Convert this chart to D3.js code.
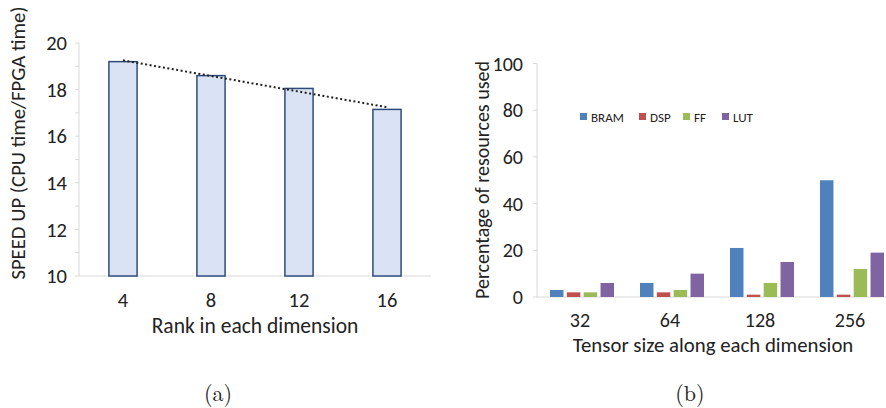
<!DOCTYPE html>
<html><head><meta charset="utf-8">
<script src="https://cdn.jsdelivr.net/npm/d3@7"></script>
<style>
html,body{margin:0;padding:0;background:#fff;}
svg{display:block;}
text{font-family:Carlito,Lato,"Open Sans",sans-serif;fill:#222;}
.cap{font-family:"Latin Modern Roman","CMU Serif","DejaVu Serif","Liberation Serif",serif;}
</style></head>
<body>
<svg id="c" width="886" height="408"></svg>
<script>
// Panel (a)
const ranks = ["4", "8", "12", "16"];
const speedup = [19.2, 18.6, 18.05, 17.15];
const speedTicks = [10, 12, 14, 16, 18, 20];
// Panel (b)
const sizes = ["32", "64", "128", "256"];
const resources = ["BRAM", "DSP", "FF", "LUT"];
const bram = [3, 6, 21, 50];
const dsp = [2, 2, 1, 1];
const ff = [2, 3, 6, 12];
const lut = [6, 10, 15, 19];
const pctTicks = [0, 20, 40, 60, 80, 100];
const resColors = ["#4f81bd", "#c0504d", "#9bbb59", "#8064a2"];

const svg = d3.select("#c");
const axisCol = "#d9d9d9";

// ---------- Panel (a) ----------
{
  const x = d3.scaleBand().domain(ranks).range([79, 431]).paddingInner(0.68).paddingOuter(0.34);
  const y = d3.scaleLinear().domain([10, 20]).range([276, 43]);
  const g = svg.append("g");
  g.append("line").attr("x1", 79).attr("x2", 79).attr("y1", y(20)).attr("y2", y(10)).attr("stroke", axisCol);
  g.append("line").attr("x1", 79).attr("x2", 431).attr("y1", y(10)).attr("y2", y(10)).attr("stroke", axisCol);
  const minor = d3.range(10, 20.01, 1);
  g.selectAll(".mt").data(minor).join("line").attr("x1", 75).attr("x2", 79)
    .attr("y1", d => y(d)).attr("y2", d => y(d)).attr("stroke", axisCol);
  g.selectAll(".yl").data(speedTicks).join("text").attr("x", 67).attr("y", d => y(d))
    .attr("dy", "0.35em").attr("text-anchor", "end").attr("font-size", 20.5).text(d => d);
  g.selectAll(".xl").data(ranks).join("text").attr("x", d => x(d) + x.bandwidth() / 2).attr("y", 300)
    .attr("dy", "0.35em").attr("text-anchor", "middle").attr("font-size", 20.5).text(d => d);
  g.selectAll(".bar").data(speedup).join("rect")
    .attr("x", (d, i) => x(ranks[i])).attr("width", x.bandwidth())
    .attr("y", d => y(d)).attr("height", d => y(10) - y(d))
    .attr("fill", "#dae3f3").attr("stroke", "#2f4b7c").attr("stroke-width", 1.5);
  // linear trendline
  const n = speedup.length, mx = (n - 1) / 2, my = d3.mean(speedup);
  const slope = d3.sum(speedup, (v, i) => (i - mx) * (v - my)) / d3.sum(speedup, (v, i) => (i - mx) ** 2);
  const icpt = my - slope * mx;
  const cx = i => x(ranks[i]) + x.bandwidth() / 2;
  g.append("line").attr("x1", cx(0)).attr("y1", y(icpt)).attr("x2", cx(n - 1)).attr("y2", y(icpt + slope * (n - 1)))
    .attr("stroke", "#222").attr("stroke-width", 2).attr("stroke-dasharray", "2,2.5");
  g.append("text").attr("transform", "translate(18,143) rotate(-90)").attr("text-anchor", "middle")
    .attr("dy", "0.35em").attr("font-size", 20.7).text("SPEED UP (CPU time/FPGA time)");
  g.append("text").attr("x", 255).attr("y", 325).attr("dy", "0.35em").attr("text-anchor", "middle")
    .attr("font-size", 21.5).text("Rank in each dimension");
  g.append("text").attr("class", "cap").attr("x", 218).attr("y", 393).attr("dy", "0.35em")
    .attr("text-anchor", "middle").attr("font-size", 22).text("(a)");
}

// ---------- Panel (b) ----------
{
  const series = [bram, dsp, ff, lut];
  const x0 = d3.scaleBand().domain(sizes).range([537, 897]);
  const x1 = d3.scaleBand().domain(resources).range([0, 64]).paddingInner(0.2);
  const off = (x0.bandwidth() - 64) / 2 + 2;
  const y = d3.scaleLinear().domain([0, 100]).range([297, 63.5]);
  const g = svg.append("g");
  g.append("line").attr("x1", 537).attr("x2", 537).attr("y1", y(100)).attr("y2", y(0)).attr("stroke", axisCol);
  g.append("line").attr("x1", 537).attr("x2", 886).attr("y1", y(0)).attr("y2", y(0)).attr("stroke", axisCol);
  g.selectAll(".mt").data(pctTicks).join("line").attr("x1", 533).attr("x2", 537)
    .attr("y1", d => y(d)).attr("y2", d => y(d)).attr("stroke", axisCol);
  g.selectAll(".yl").data(pctTicks).join("text").attr("x", 523).attr("y", d => y(d))
    .attr("dy", "0.35em").attr("text-anchor", "end").attr("font-size", 20).text(d => d);
  g.selectAll(".xl").data(sizes).join("text").attr("x", d => x0(d) + x0.bandwidth() / 2 - 2).attr("y", 320)
    .attr("dy", "0.35em").attr("text-anchor", "middle").attr("font-size", 20).text(d => d);
  resources.forEach((r, k) => {
    g.selectAll(".b" + k).data(series[k]).join("rect")
      .attr("x", (d, i) => x0(sizes[i]) + off + x1(r) - 2).attr("width", x1.bandwidth())
      .attr("y", d => y(d)).attr("height", d => y(0) - y(d)).attr("fill", resColors[k]);
  });
  const lx = [580, 639, 683, 722];
  resources.forEach((r, k) => {
    g.append("rect").attr("x", lx[k]).attr("y", 113).attr("width", 7).attr("height", 7).attr("fill", resColors[k]);
    g.append("text").attr("x", lx[k] + 11).attr("y", 117).attr("dy", "0.35em").attr("font-size", 13).text(r);
  });
  g.append("text").attr("transform", "translate(482,180) rotate(-90)").attr("text-anchor", "middle")
    .attr("dy", "0.35em").attr("font-size", 20).text("Percentage of resources used");
  g.append("text").attr("x", 713).attr("y", 345).attr("dy", "0.35em").attr("text-anchor", "middle")
    .attr("font-size", 20.8).text("Tensor size along each dimension");
  g.append("text").attr("class", "cap").attr("x", 690).attr("y", 393).attr("dy", "0.35em")
    .attr("text-anchor", "middle").attr("font-size", 22).text("(b)");
}
</script>
</body></html>
